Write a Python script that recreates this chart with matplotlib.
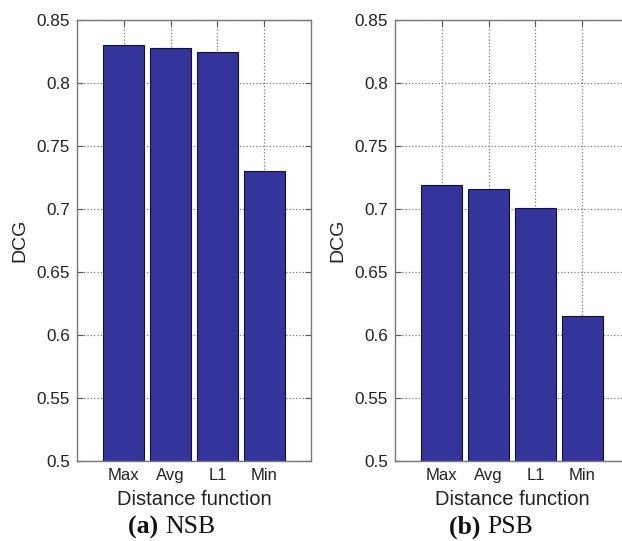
import matplotlib
matplotlib.use("Agg")
import matplotlib.pyplot as plt

# DCG per distance function on two benchmarks
categories = ["Max", "Avg", "L1", "Min"]
nsb_dcg = [0.830, 0.828, 0.825, 0.730]
psb_dcg = [0.719, 0.716, 0.701, 0.615]
yticks = [0.5, 0.55, 0.6, 0.65, 0.7, 0.75, 0.8, 0.85]
ytick_labels = ["0.5", "0.55", "0.6", "0.65", "0.7", "0.75", "0.8", "0.85"]
captions = [("(a)", "NSB"), ("(b)", "PSB")]

plt.rcParams["font.family"] = ["Liberation Sans", "DejaVu Sans"]

W, H = 622, 541
fig = plt.figure(figsize=(W / 100, H / 100), dpi=100)

bar_color = "#34349a"
axes_px = [(77, 20, 234, 441), (395, 20, 234, 441)]


def panel(ax, values):
    x = list(range(1, len(values) + 1))
    ax.bar(x, values, width=0.87, color=bar_color, edgecolor="#111133",
           linewidth=0.8, zorder=2)
    ax.set_xlim(0, 5)
    ax.set_ylim(0.5, 0.85)
    ax.set_xticks(x)
    ax.set_xticklabels(categories, fontsize=12, color="#222222")
    ax.set_yticks(yticks)
    ax.set_yticklabels(ytick_labels, fontsize=12.3, color="#222222")
    ax.grid(True, linestyle=":", color="#777777", linewidth=0.9, zorder=0)
    ax.set_axisbelow(True)
    ax.tick_params(direction="in", length=4, width=0.8, color="#555555",
                   top=True, right=True, pad=5)
    for s in ax.spines.values():
        s.set_color("#777777")
        s.set_linewidth(1.0)
    ax.set_xlabel("Distance function", fontsize=14.5, color="#222222",
                  labelpad=5)
    ax.set_ylabel("DCG", fontsize=14, color="#222222", labelpad=6)


for (l, t, w, h), vals in zip(axes_px, [nsb_dcg, psb_dcg]):
    ax = fig.add_axes([l / W, 1 - (t + h) / H, w / W, h / H])
    panel(ax, vals)

# Panel captions: bold tag followed by the benchmark name
cap_split = [165, 487]
for cx, (tag, name) in zip(cap_split, captions):
    fig.text(cx / W, 1 - 527 / H, tag + " ", ha="right", va="center",
             fontsize=18.5, fontweight="bold", family="Liberation Serif",
             color="#111111")
    fig.text(cx / W, 1 - 527 / H, name, ha="left", va="center",
             fontsize=18.5, family="Liberation Serif", color="#111111")

fig.savefig("out.png", dpi=100)
